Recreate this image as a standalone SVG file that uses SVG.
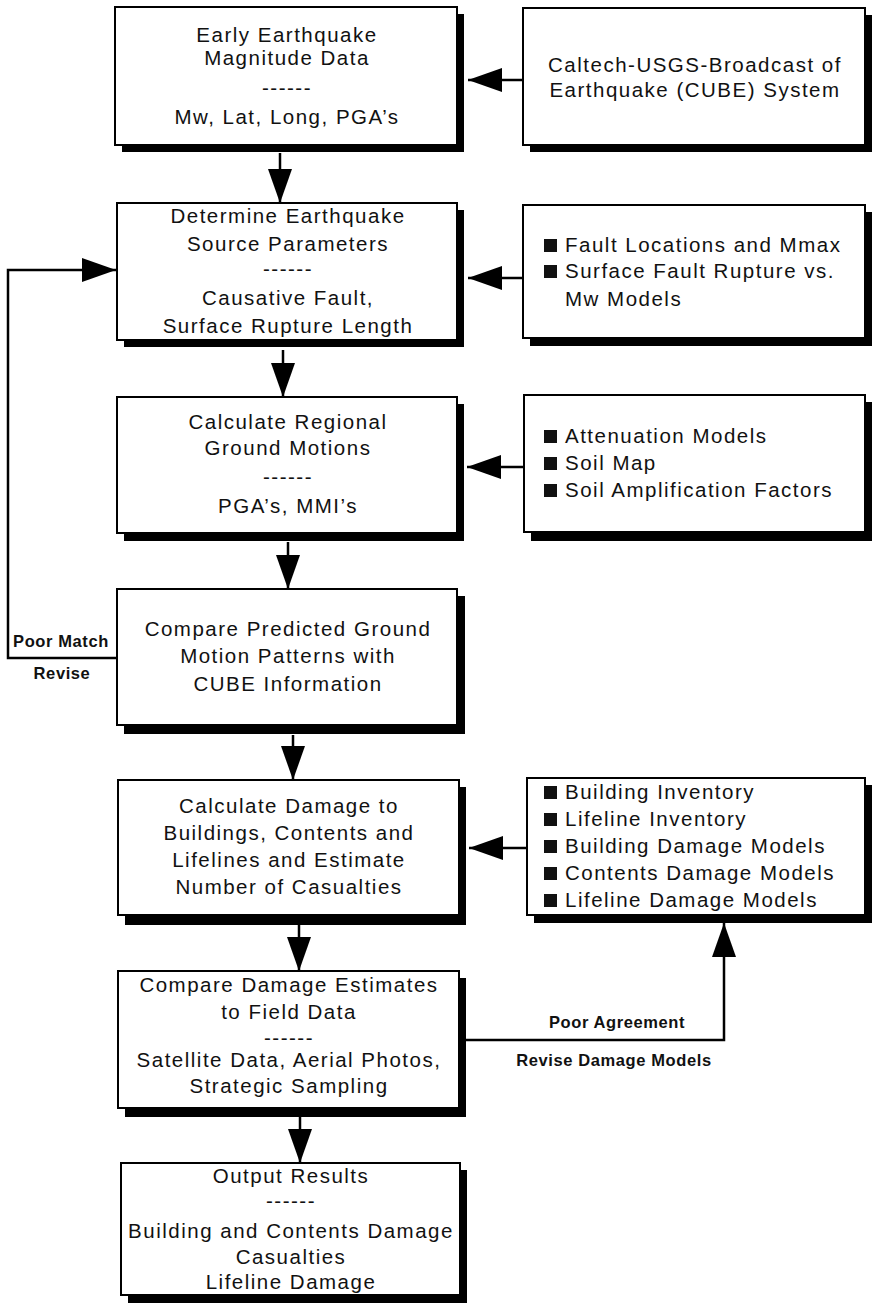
<svg xmlns="http://www.w3.org/2000/svg" width="872" height="1306" viewBox="0 0 872 1306">
<style>
.sh{fill:#000;}
.bx{fill:#fff;stroke:#000;stroke-width:2;}
.t{font-family:"Liberation Sans",Arial,sans-serif;font-size:20.5px;letter-spacing:1.5px;fill:#111;}
.c{text-anchor:middle;}
.lb{font-family:"Liberation Sans",Arial,sans-serif;font-size:16.5px;font-weight:bold;letter-spacing:0.6px;fill:#111;text-anchor:middle;}
.bl{fill:#111;}
.ln{fill:none;stroke:#000;stroke-width:2.5;}
</style>
<defs>
<marker id="ah" markerUnits="userSpaceOnUse" markerWidth="34" markerHeight="24" refX="34" refY="12" orient="auto">
<path d="M0,0 L34,12 L0,24 Z" fill="#000"/>
</marker>
</defs>
<rect width="872" height="1306" fill="#fff"/>

<g id="connectors">
<path class="ln" d="M523,80 H468" marker-end="url(#ah)"/>
<path class="ln" d="M280,153 V203" marker-end="url(#ah)"/>
<path class="ln" d="M523,278 H468" marker-end="url(#ah)"/>
<path class="ln" d="M283,350 V397" marker-end="url(#ah)"/>
<path class="ln" d="M524,467 H467" marker-end="url(#ah)"/>
<path class="ln" d="M288,542 V589" marker-end="url(#ah)"/>
<path class="ln" d="M293,735 V780" marker-end="url(#ah)"/>
<path class="ln" d="M117,658 H8 V270 H116" marker-end="url(#ah)"/>
<path class="ln" d="M299,925 V971" marker-end="url(#ah)"/>
<path class="ln" d="M527,848 H469" marker-end="url(#ah)"/>
<path class="ln" d="M459,1040 H724 V923" marker-end="url(#ah)"/>
<path class="ln" d="M300,1117 V1163" marker-end="url(#ah)"/>
</g>

<g id="labels">
<text class="lb" x="61" y="647">Poor Match</text>
<text class="lb" x="62" y="679">Revise</text>
<text class="lb" x="617" y="1028">Poor Agreement</text>
<text class="lb" x="614" y="1066">Revise Damage Models</text>
</g>

<g id="early">
<rect class="sh" x="122" y="14" width="342" height="138"/>
<rect class="bx" x="115" y="7" width="342" height="138"/>
<text class="t c" x="287" y="42">Early Earthquake</text>
<text class="t c" x="287" y="65">Magnitude Data</text>
<text class="t c" x="287" y="95">------</text>
<text class="t c" x="287" y="124">Mw, Lat, Long, PGA’s</text>
</g>

<g id="cube">
<rect class="sh" x="530" y="15" width="342" height="137"/>
<rect class="bx" x="523" y="8" width="342" height="137"/>
<text class="t c" x="695" y="72">Caltech-USGS-Broadcast of</text>
<text class="t c" x="695" y="97">Earthquake (CUBE) System</text>
</g>

<g id="source">
<rect class="sh" x="124" y="210" width="340" height="137"/>
<rect class="bx" x="117" y="203" width="340" height="137"/>
<text class="t c" x="288" y="223">Determine Earthquake</text>
<text class="t c" x="288" y="251">Source Parameters</text>
<text class="t c" x="288" y="276">------</text>
<text class="t c" x="288" y="305">Causative Fault,</text>
<text class="t c" x="288" y="333">Surface Rupture Length</text>
</g>

<g id="fault">
<rect class="sh" x="530" y="212" width="342" height="134"/>
<rect class="bx" x="523" y="205" width="342" height="133"/>
<rect class="bl" x="544" y="239" width="13" height="13"/>
<text class="t" x="565" y="252">Fault Locations and Mmax</text>
<rect class="bl" x="544" y="265" width="13" height="13"/>
<text class="t" x="565" y="278">Surface Fault Rupture vs.</text>
<text class="t" x="565" y="306">Mw Models</text>
</g>

<g id="regional">
<rect class="sh" x="124" y="404" width="340" height="137"/>
<rect class="bx" x="117" y="397" width="340" height="136"/>
<text class="t c" x="288" y="429">Calculate Regional</text>
<text class="t c" x="288" y="455">Ground Motions</text>
<text class="t c" x="288" y="484">------</text>
<text class="t c" x="288" y="513">PGA’s, MMI’s</text>
</g>

<g id="attenuation">
<rect class="sh" x="531" y="402" width="341" height="139"/>
<rect class="bx" x="524" y="395" width="341" height="137"/>
<rect class="bl" x="544" y="430" width="13" height="13"/>
<text class="t" x="565" y="443">Attenuation Models</text>
<rect class="bl" x="544" y="457" width="13" height="13"/>
<text class="t" x="565" y="470">Soil Map</text>
<rect class="bl" x="544" y="484" width="13" height="13"/>
<text class="t" x="565" y="497">Soil Amplification Factors</text>
</g>

<g id="compare">
<rect class="sh" x="124" y="596" width="341" height="138"/>
<rect class="bx" x="117" y="589" width="340" height="136"/>
<text class="t c" x="288" y="636">Compare Predicted Ground</text>
<text class="t c" x="288" y="663">Motion Patterns with</text>
<text class="t c" x="288" y="691">CUBE Information</text>
</g>

<g id="damage">
<rect class="sh" x="125" y="787" width="341" height="138"/>
<rect class="bx" x="118" y="780" width="341" height="135"/>
<text class="t c" x="289" y="813">Calculate Damage to</text>
<text class="t c" x="289" y="840">Buildings, Contents and</text>
<text class="t c" x="289" y="867">Lifelines and Estimate</text>
<text class="t c" x="289" y="894">Number of Casualties</text>
</g>

<g id="inventory">
<rect class="sh" x="534" y="785" width="338" height="138"/>
<rect class="bx" x="527" y="778" width="338" height="137"/>
<rect class="bl" x="544" y="786" width="13" height="13"/>
<text class="t" x="565" y="799">Building Inventory</text>
<rect class="bl" x="544" y="813" width="13" height="13"/>
<text class="t" x="565" y="826">Lifeline Inventory</text>
<rect class="bl" x="544" y="840" width="13" height="13"/>
<text class="t" x="565" y="853">Building Damage Models</text>
<rect class="bl" x="544" y="867" width="13" height="13"/>
<text class="t" x="565" y="880">Contents Damage Models</text>
<rect class="bl" x="544" y="894" width="13" height="13"/>
<text class="t" x="565" y="907">Lifeline Damage Models</text>
</g>

<g id="field">
<rect class="sh" x="125" y="978" width="341" height="139"/>
<rect class="bx" x="118" y="971" width="341" height="137"/>
<text class="t c" x="289" y="992">Compare Damage Estimates</text>
<text class="t c" x="289" y="1019">to Field Data</text>
<text class="t c" x="289" y="1045">------</text>
<text class="t c" x="289" y="1067">Satellite Data, Aerial Photos,</text>
<text class="t c" x="289" y="1093">Strategic Sampling</text>
</g>

<g id="output">
<rect class="sh" x="128" y="1170" width="339" height="133"/>
<rect class="bx" x="121" y="1163" width="339" height="132"/>
<text class="t c" x="291" y="1183">Output Results</text>
<text class="t c" x="291" y="1208">------</text>
<text class="t c" x="291" y="1238">Building and Contents Damage</text>
<text class="t c" x="291" y="1264">Casualties</text>
<text class="t c" x="291" y="1289">Lifeline Damage</text>
</g>
</svg>
